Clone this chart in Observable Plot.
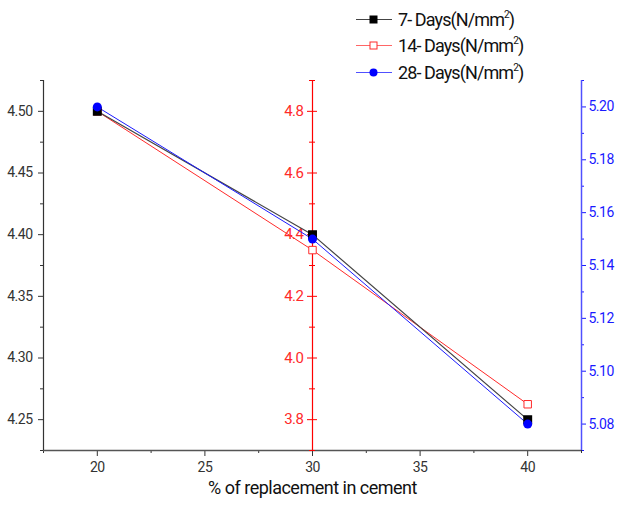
<!DOCTYPE html>
<html>
<head>
<meta charset="utf-8">
<script src="https://cdn.jsdelivr.net/npm/d3@7"></script>
<script src="https://cdn.jsdelivr.net/npm/@observablehq/plot@0.6"></script>
<style>
  html, body { margin: 0; padding: 0; background: #fff; }
  #wrap { position: relative; width: 620px; height: 506px; font-family: Roboto, "Liberation Sans", sans-serif; }
  #legend { position: absolute; left: 356px; top: 6px; font-size: 18px; color: #111; letter-spacing: -0.9px; }
  .row { display: flex; align-items: center; height: 26.5px; }
  .row svg { margin-right: 6px; }
  sup { font-size: 10px; vertical-align: 8px; line-height: 0; }
</style>
</head>
<body>
<div id="wrap"><div id="legend"></div></div>
<script>
// ---- data ----
const percent = [20, 30, 40];
const days7 = [4.50, 4.40, 4.25];
const days14 = [4.80, 4.35, 3.85];
const days28 = [5.20, 5.15, 5.08];
const seriesNames = ["7- Days", "14- Days", "28- Days"];

// ---- axes ----
const xDomain = [17.5, 42.5];
const xTicks = [20, 25, 30, 35, 40];
const xMinor = [17.5, 22.5, 27.5, 32.5, 37.5, 42.5];
const leftDomain = [4.225, 4.525];
const leftTicks = [4.25, 4.30, 4.35, 4.40, 4.45, 4.50];
const leftMinor = [4.225, 4.275, 4.325, 4.375, 4.425, 4.475, 4.525];
const redDomain = [3.70, 4.90];
const redTicks = [3.8, 4.0, 4.2, 4.4, 4.6, 4.8];
const redMinor = [3.7, 3.9, 4.1, 4.3, 4.5, 4.7, 4.9];
const blueDomain = [5.07, 5.21];
const blueTicks = [5.08, 5.10, 5.12, 5.14, 5.16, 5.18, 5.20];
const blueMinor = [5.07, 5.09, 5.11, 5.13, 5.15, 5.17, 5.19, 5.21];
const redAxisAt = 30;

const cBlack = "#222", cLine7 = "#444", cRed = "#ff2a2a", cBlue = "#1a1aff", cAxis = "#333";
const cRedAxis = "#ff0000", cBlueAxis = "#5050ff";

const fromRed = d3.scaleLinear(redDomain, leftDomain);
const fromBlue = d3.scaleLinear(blueDomain, leftDomain);

const d7 = percent.map((x, i) => ({x, y: days7[i]}));
const d14 = percent.map((x, i) => ({x, y: fromRed(days14[i])}));
const d28 = percent.map((x, i) => ({x, y: fromBlue(days28[i])}));

const plot = Plot.plot({
  width: 620,
  height: 506,
  marginTop: 80,
  marginBottom: 56,
  marginLeft: 43,
  marginRight: 39,
  style: { fontFamily: "Roboto, 'Liberation Sans', sans-serif", background: "transparent" },
  x: { domain: xDomain },
  y: { domain: leftDomain },
  marks: [
    // bottom axis
    Plot.axisX({ ticks: xTicks, tickSize: 6, tickPadding: 6, fontSize: 14, color: cAxis, label: null }),
    Plot.axisX({ ticks: xMinor, tickSize: 3, tickFormat: () => "", color: cAxis, label: null }),
    Plot.ruleY([leftDomain[0]], { stroke: "#555", strokeWidth: 1.5 }),
    // left axis
    Plot.axisY({ ticks: leftTicks, tickSize: 5, tickPadding: 6, fontSize: 14, color: cAxis, label: null, tickFormat: d => d.toFixed(2) }),
    Plot.axisY({ ticks: leftMinor, tickSize: 3, tickFormat: () => "", color: cAxis, label: null }),
    Plot.ruleX([xDomain[0]], { stroke: cAxis, strokeWidth: 1.2 }),
    // middle red axis
    Plot.ruleX([redAxisAt], { stroke: cRedAxis, strokeWidth: 1.2 }),
    Plot.ruleY(redTicks.map(fromRed), { x1: redAxisAt, x2: redAxisAt, insetLeft: -5, insetRight: -5, stroke: cRedAxis }),
    Plot.ruleY(redMinor.map(fromRed), { x1: redAxisAt, x2: redAxisAt, insetLeft: -3, insetRight: -3, stroke: cRedAxis }),
    Plot.text(redTicks, { x: () => redAxisAt, y: d => fromRed(d), text: d => d.toFixed(1), textAnchor: "end", dx: -9, fill: cRed, fontSize: 15 }),
    // right blue axis
    Plot.axisY({ anchor: "right", ticks: blueTicks.map(fromBlue), tickSize: 4, tickPadding: 3, fontSize: 14, color: cBlue, label: null, tickFormat: d => fromBlue.invert(d).toFixed(2) }),
    Plot.axisY({ anchor: "right", ticks: blueMinor.map(fromBlue), tickSize: 2, tickFormat: () => "", color: cBlue, label: null }),
    Plot.ruleX([xDomain[1]], { stroke: cBlueAxis, strokeWidth: 1.5 }),
    // x label
    Plot.text(["% of replacement in cement"], { frameAnchor: "bottom", dy: 43, fontSize: 18, fill: "#111", text: d => d }),
    // series
    Plot.line(d14, { x: "x", y: "y", stroke: cRed, strokeWidth: 1 }),
    Plot.line(d7, { x: "x", y: "y", stroke: cLine7, strokeWidth: 1.2 }),
    Plot.line(d28, { x: "x", y: "y", stroke: cBlue, strokeWidth: 1 }),
    Plot.dot(d14, { x: "x", y: "y", symbol: "square", r: 4.2, stroke: cRed, fill: "white", strokeWidth: 1 }),
    Plot.dot(d7, { x: "x", y: "y", symbol: "square", r: 4.2, fill: "black", stroke: "black" }),
    Plot.dot(d28, { x: "x", y: "y", symbol: "circle", r: 4.5, fill: "#0000ff" })
  ]
});
d3.select(plot).selectAll("text").style("letter-spacing", "-0.5px");
document.getElementById("wrap").prepend(plot);
plot.style.position = "absolute";
plot.style.left = "0";
plot.style.top = "0";

// legend
const legendSpec = [
  { name: seriesNames[0], stroke: "#444", marker: "square", fill: "black" },
  { name: seriesNames[1], stroke: "#ff6666", marker: "square", fill: "white", mstroke: "#ff2a2a" },
  { name: seriesNames[2], stroke: "#5050ff", marker: "circle", fill: "#0000ff" }
];
const legend = document.getElementById("legend");
for (const s of legendSpec) {
  const row = document.createElement("div");
  row.className = "row";
  const m = s.marker === "square"
    ? `<rect x="14" y="3" width="7" height="7" fill="${s.fill}" stroke="${s.mstroke || s.fill}" stroke-width="1"/>`
    : `<circle cx="17.5" cy="6.5" r="4" fill="${s.fill}"/>`;
  row.innerHTML = `<svg width="36" height="13"><line x1="0" x2="36" y1="6.5" y2="6.5" stroke="${s.stroke}" stroke-width="1.2"/>${m}</svg><span>${s.name}(N/mm<sup>2</sup>)</span>`;
  legend.appendChild(row);
}
</script>
</body>
</html>
